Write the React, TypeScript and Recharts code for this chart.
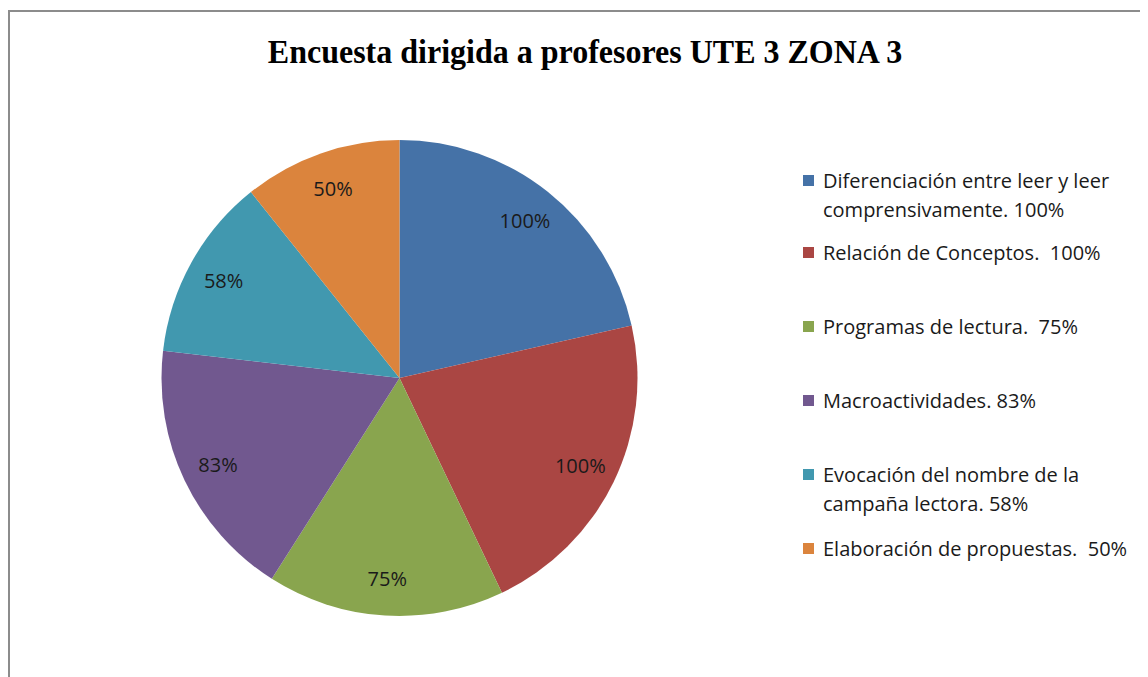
import React from "react";
import { PieChart, Pie, Cell, Legend } from "recharts";

const categories = [
  "Diferenciación entre leer y leer comprensivamente. 100%",
  "Relación de Conceptos.  100%",
  "Programas de lectura.  75%",
  "Macroactividades. 83%",
  "Evocación del nombre de la campaña lectora. 58%",
  "Elaboración de propuestas.  50%",
];
const values = [100, 100, 75, 83, 58, 50];
const colors = ["#4572A7", "#AA4643", "#89A54E", "#71588F", "#4198AF", "#DB843D"];
const title = "Encuesta dirigida a profesores UTE 3 ZONA 3";

const data = categories.map((name, i) => ({ name, value: values[i] }));

const FONT = "'Open Sans', 'Noto Sans', sans-serif";
const RAD = Math.PI / 180;
const renderLabel = (props: any) => {
  const { cx, cy, midAngle, value } = props;
  const r = 201;
  const x = cx + r * Math.cos(-midAngle * RAD);
  const y = cy + r * Math.sin(-midAngle * RAD);
  return (
    <text
      x={x}
      y={y}
      textAnchor="middle"
      dominantBaseline="central"
      fill="#1a1a1a"
      fontSize={20}
      fontFamily={FONT}
    >
      {value + "%"}
    </text>
  );
};

const legendTops = [0, 72, 146, 220, 294, 368];

const renderLegend = () => {
  return (
    <div style={{ position: "relative", width: 345, height: 420 }}>
      {categories.map((name, i) => (
        <div
          key={i}
          style={{
            position: "absolute",
            top: legendTops[i],
            left: 0,
            width: 345,
            display: "flex",
            alignItems: "flex-start",
          }}
        >
          <div
            style={{
              width: 11,
              height: 11,
              marginTop: 9,
              marginRight: 9,
              background: colors[i],
              flexShrink: 0,
            }}
          />
          <div
            style={{
              fontFamily: FONT,
              fontSize: 20,
              lineHeight: "29px",
              color: "#1a1a1a",
              width: 320,
              whiteSpace: "pre-wrap",
            }}
          >
            {name}
          </div>
        </div>
      ))}
    </div>
  );
};

export default function App() {
  return (
    <div
      style={{
        position: "relative",
        width: 1140,
        height: 669,
        overflow: "hidden",
        background: "#fff",
      }}
    >
      <div
        style={{
          position: "absolute",
          left: 0,
          top: 2,
          width: 1300,
          height: 800,
          border: "2px solid #8c8c8c",
          boxSizing: "border-box",
        }}
      />
      <div
        style={{
          position: "absolute",
          left: 0,
          top: 25,
          width: 1154,
          textAlign: "center",
          fontFamily: "'Liberation Serif', 'Times New Roman', serif",
          fontWeight: "bold",
          fontSize: 32,
          color: "#000",
          lineHeight: "36px",
          transform: "scaleY(1.05)",
        }}
      >
        {title}
      </div>
      <div style={{ position: "absolute", left: 0, top: 0 }}>
        <PieChart width={1140} height={669}>
          <Pie
            data={data}
            dataKey="value"
            nameKey="name"
            cx={386.5}
            cy={365}
            outerRadius={238}
            startAngle={90}
            endAngle={-270}
            stroke="none"
            label={renderLabel}
            labelLine={false}
            isAnimationActive={false}
          >
            {data.map((d, i) => (
              <Cell key={i} fill={colors[i]} />
            ))}
          </Pie>
          <Legend
            content={renderLegend}
            wrapperStyle={{ position: "absolute", left: 795, top: 158, width: 345 }}
          />
        </PieChart>
      </div>
    </div>
  );
}
